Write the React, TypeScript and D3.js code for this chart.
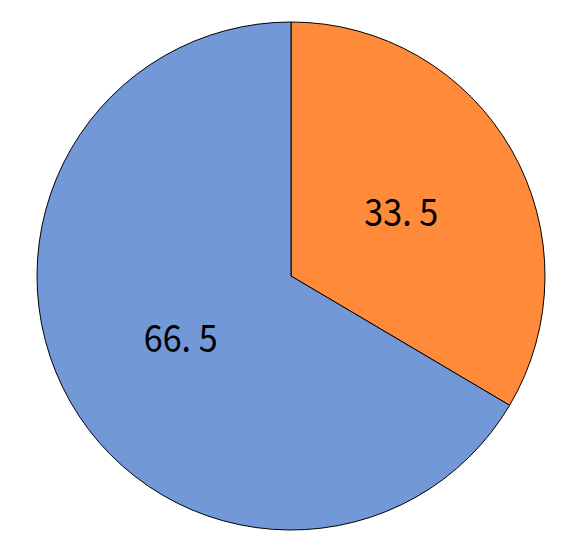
import React from "react";
import * as d3 from "d3";

const categories = ["A", "B"];
const values = [33.5, 66.5];
const labels = ["33. 5", "66. 5"];
const colors = ["#FF8B3A", "#7398D8"];

export default function App() {
  const width = 567;
  const height = 543;
  const cx = 291;
  const cy = 276;
  const r = 254;
  const pie = d3.pie<number>().sort(null).value((d) => d)(values);
  const arc = d3.arc<d3.PieArcDatum<number>>().innerRadius(0).outerRadius(r);
  const labelArc = d3.arc<d3.PieArcDatum<number>>().innerRadius(r * 0.5).outerRadius(r * 0.5);
  return (
    <svg width={width} height={height} style={{ position: "absolute", left: 0, top: 0 }}>
      <rect width={width} height={height} fill="#fff" />
      <g transform={`translate(${cx},${cy})`}>
        {pie.map((p, i) => (
          <path key={categories[i]} d={arc(p) || ""} fill={colors[i]} stroke="#000" strokeWidth={1} />
        ))}
        {pie.map((p, i) => {
          const [x, y] = labelArc.centroid(p);
          return (
            <text
              key={"t" + i}
              x={x}
              y={y + 13}
              textAnchor="middle"
              fontFamily="'Noto Sans CJK JP', sans-serif"
              fontSize={38}
              textLength={74}
              lengthAdjust="spacingAndGlyphs"
              fill="#000"
            >
              {labels[i]}
            </text>
          );
        })}
      </g>
    </svg>
  );
}
